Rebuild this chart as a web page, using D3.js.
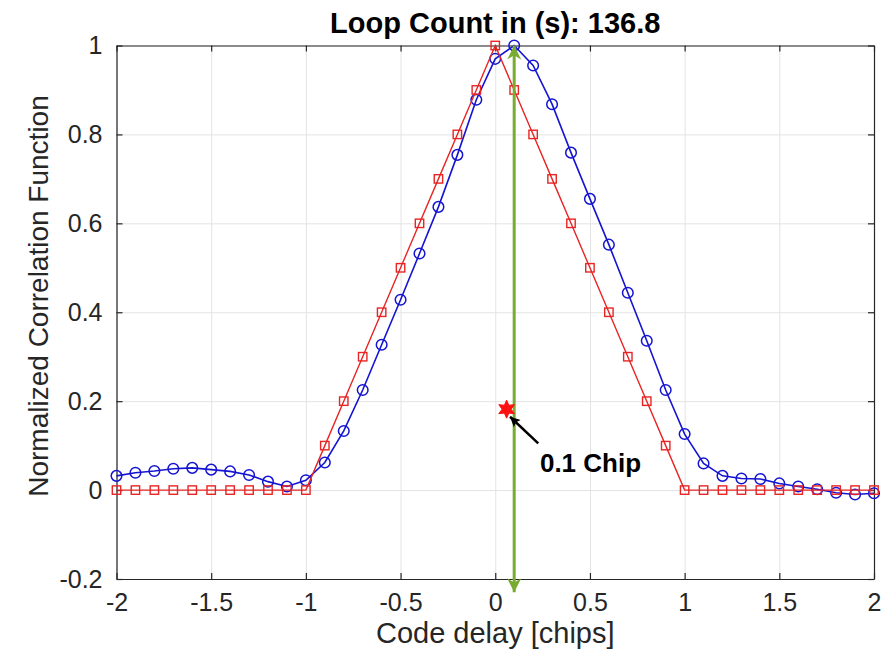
<!DOCTYPE html>
<html>
<head>
<meta charset="utf-8">
<script src="https://cdn.jsdelivr.net/npm/d3@7"></script>
<style>
  html, body { margin: 0; padding: 0; background: #fff; }
  svg { display: block; }
  text { font-family: "Liberation Sans", Arial, Helvetica, sans-serif; }
</style>
</head>
<body>
<div id="chart"></div>
<script>
// Code delay samples (chips)
const delays = [-2.0, -1.9, -1.8, -1.7, -1.6, -1.5, -1.4, -1.3, -1.2, -1.1,
                -1.0, -0.9, -0.8, -0.7, -0.6, -0.5, -0.4, -0.3, -0.2, -0.1,
                 0.0,  0.1,  0.2,  0.3,  0.4,  0.5,  0.6,  0.7,  0.8,  0.9,
                 1.0,  1.1,  1.2,  1.3,  1.4,  1.5,  1.6,  1.7,  1.8,  1.9, 2.0];

// Ideal correlation triangle (red squares)
const idealCorr = [0, 0, 0, 0, 0, 0, 0, 0, 0, 0,
                   0, 0.1, 0.2, 0.3, 0.4, 0.5, 0.6, 0.7, 0.8, 0.9,
                   1.0, 0.9, 0.8, 0.7, 0.6, 0.5, 0.4, 0.3, 0.2, 0.1,
                   0, 0, 0, 0, 0, 0, 0, 0, 0, 0, 0];

// Measured correlation (blue circles)
const measuredCorr = [0.032, 0.039, 0.043, 0.048, 0.050, 0.046, 0.042, 0.034, 0.019, 0.008,
                      0.022, 0.062, 0.133, 0.225, 0.327, 0.428, 0.532, 0.637, 0.754, 0.878,
                      0.970, 1.000, 0.955, 0.868, 0.759, 0.655, 0.552, 0.444, 0.336, 0.225,
                      0.126, 0.060, 0.032, 0.026, 0.025, 0.015, 0.008, 0.002, -0.006, -0.010, -0.007];

const xTicks = [-2, -1.5, -1, -0.5, 0, 0.5, 1, 1.5, 2];
const xTickLabels = ["-2", "-1.5", "-1", "-0.5", "0", "0.5", "1", "1.5", "2"];
const yTicks = [-0.2, 0, 0.2, 0.4, 0.6, 0.8, 1];
const yTickLabels = ["-0.2", "0", "0.2", "0.4", "0.6", "0.8", "1"];

// Annotations
const peakShift = [0.1];          // green double arrow at the measured peak
const peakArrowSpan = [1.0, -0.23];
const marker = [{x: 0.06, y: 0.182}];
const chipArrow = [{x: 0.227, y: 0.105}, {x: 0.078, y: 0.165}];
const chipLabel = [{x: 0.236, y: 0.04, text: "0.1 Chip"}];
const titleText = "Loop Count in (s): 136.8";
const xLabelText = "Code delay [chips]";
const yLabelText = "Normalized Correlation Function";

const W = 891, H = 665;
const plot = {left: 116.5, right: 874, top: 45.5, bottom: 579};

const svg = d3.select("#chart").append("svg")
  .attr("width", W).attr("height", H);

const x = d3.scaleLinear().domain([-2, 2]).range([plot.left, plot.right]);
const y = d3.scaleLinear().domain([-0.2, 1]).range([plot.bottom, plot.top]);

const axisColor = "#262626";
const gridColor = "#e3e3e3";

// Grid
svg.append("g")
  .attr("transform", `translate(0,${plot.bottom})`)
  .call(d3.axisBottom(x).tickValues(xTicks).tickSize(-(plot.bottom - plot.top)).tickFormat(""))
  .call(g => g.select(".domain").remove())
  .call(g => g.selectAll("line").attr("stroke", gridColor).attr("stroke-width", 1));
svg.append("g")
  .attr("transform", `translate(${plot.left},0)`)
  .call(d3.axisLeft(y).tickValues(yTicks).tickSize(-(plot.right - plot.left)).tickFormat(""))
  .call(g => g.select(".domain").remove())
  .call(g => g.selectAll("line").attr("stroke", gridColor).attr("stroke-width", 1));

// Axes box with inward ticks on all sides
const tickLen = 6;
function styleAxis(g) {
  g.select(".domain").attr("stroke", axisColor).attr("stroke-width", 1.2);
  g.selectAll(".tick line").attr("stroke", axisColor).attr("stroke-width", 1.2);
}
const xFmt = d => xTickLabels[xTicks.indexOf(d)];
const yFmt = d => yTickLabels[yTicks.indexOf(d)];

const gxb = svg.append("g")
  .attr("transform", `translate(0,${plot.bottom})`)
  .call(d3.axisBottom(x).tickValues(xTicks).tickSizeInner(-tickLen).tickSizeOuter(0).tickPadding(14).tickFormat(xFmt))
  .call(styleAxis);
gxb.selectAll("text").attr("font-size", 25).attr("fill", axisColor).attr("font-family", null);

svg.append("g")
  .attr("transform", `translate(0,${plot.top})`)
  .call(d3.axisTop(x).tickValues(xTicks).tickSizeInner(-tickLen).tickSizeOuter(0).tickFormat(""))
  .call(styleAxis);

const gyl = svg.append("g")
  .attr("transform", `translate(${plot.left},0)`)
  .call(d3.axisLeft(y).tickValues(yTicks).tickSizeInner(-tickLen).tickSizeOuter(0).tickPadding(14).tickFormat(yFmt))
  .call(styleAxis);
gyl.selectAll("text").attr("font-size", 25).attr("fill", axisColor).attr("font-family", null);

svg.append("g")
  .attr("transform", `translate(${plot.right},0)`)
  .call(d3.axisRight(y).tickValues(yTicks).tickSizeInner(-tickLen).tickSizeOuter(0).tickFormat(""))
  .call(styleAxis);

// Series
const pts = (vals) => delays.map((d, i) => ({x: d, y: vals[i]}));
const line = d3.line().x(d => x(d.x)).y(d => y(d.y));

const blue = "#1414d2";
const red = "#e82424";

svg.append("path").datum(pts(measuredCorr))
  .attr("d", line).attr("fill", "none").attr("stroke", blue).attr("stroke-width", 1.6);
svg.append("g").selectAll("circle").data(pts(measuredCorr)).join("circle")
  .attr("cx", d => x(d.x)).attr("cy", d => y(d.y)).attr("r", 5.3)
  .attr("fill", "none").attr("stroke", blue).attr("stroke-width", 1.5);

svg.append("path").datum(pts(idealCorr))
  .attr("d", line).attr("fill", "none").attr("stroke", red).attr("stroke-width", 1.4);
svg.append("g").selectAll("rect").data(pts(idealCorr)).join("rect")
  .attr("x", d => x(d.x) - 4.2).attr("y", d => y(d.y) - 4.2).attr("width", 8.4).attr("height", 8.4)
  .attr("fill", "none").attr("stroke", red).attr("stroke-width", 1.4);

// Green double arrow at the peak
const green = "#77ac30";
const defs = svg.append("defs");
defs.append("marker").attr("id", "greenHead")
  .attr("viewBox", "0 0 10 10").attr("refX", 10).attr("refY", 5)
  .attr("markerWidth", 18).attr("markerHeight", 14).attr("markerUnits", "userSpaceOnUse")
  .attr("orient", "auto-start-reverse")
  .append("path").attr("d", "M0,0 L10,5 L0,10 L3,5 Z").attr("fill", green);
svg.append("line")
  .attr("x1", x(peakShift[0])).attr("x2", x(peakShift[0]))
  .attr("y1", y(peakArrowSpan[0])).attr("y2", y(peakArrowSpan[1]))
  .attr("stroke", green).attr("stroke-width", 3)
  .attr("marker-start", "url(#greenHead)").attr("marker-end", "url(#greenHead)");

// Red six-pointed star
function starPath(rOuter, rInner, n) {
  const p = [];
  for (let i = 0; i < 2 * n; i++) {
    const r = i % 2 === 0 ? rOuter : rInner;
    const a = Math.PI / 2 + i * Math.PI / n;
    p.push([r * Math.cos(a), -r * Math.sin(a)]);
  }
  return "M" + p.map(q => q.join(",")).join("L") + "Z";
}
svg.append("g").selectAll("path").data(marker).join("path")
  .attr("transform", d => `translate(${x(d.x)},${y(d.y)})`)
  .attr("d", starPath(9, 4.5, 6)).attr("fill", "#ff1010").attr("stroke", "#ff1010").attr("stroke-width", 1);

// Black arrow pointing at the star
defs.append("marker").attr("id", "blackHead")
  .attr("viewBox", "0 0 10 10").attr("refX", 10).attr("refY", 5)
  .attr("markerWidth", 12).attr("markerHeight", 10).attr("markerUnits", "userSpaceOnUse")
  .attr("orient", "auto")
  .append("path").attr("d", "M0,0 L10,5 L0,10 L2,5 Z").attr("fill", "#000");
svg.append("line")
  .attr("x1", x(chipArrow[0].x)).attr("y1", y(chipArrow[0].y))
  .attr("x2", x(chipArrow[1].x)).attr("y2", y(chipArrow[1].y))
  .attr("stroke", "#000").attr("stroke-width", 2.5)
  .attr("marker-end", "url(#blackHead)");

svg.append("g").selectAll("text").data(chipLabel).join("text")
  .attr("x", d => x(d.x)).attr("y", d => y(d.y))
  .attr("font-size", 26).attr("font-weight", "bold").attr("fill", "#000")
  .text(d => d.text);

// Title and axis labels
svg.append("text")
  .attr("x", (plot.left + plot.right) / 2).attr("y", 33)
  .attr("text-anchor", "middle").attr("font-size", 29).attr("font-weight", "bold").attr("fill", "#000")
  .text(titleText);

svg.append("text")
  .attr("x", (plot.left + plot.right) / 2).attr("y", 643)
  .attr("text-anchor", "middle").attr("font-size", 29).attr("fill", axisColor)
  .text(xLabelText);

svg.append("text")
  .attr("transform", `translate(48,296) rotate(-90)`)
  .attr("text-anchor", "middle").attr("font-size", 28).attr("fill", axisColor)
  .text(yLabelText);
</script>
</body>
</html>
